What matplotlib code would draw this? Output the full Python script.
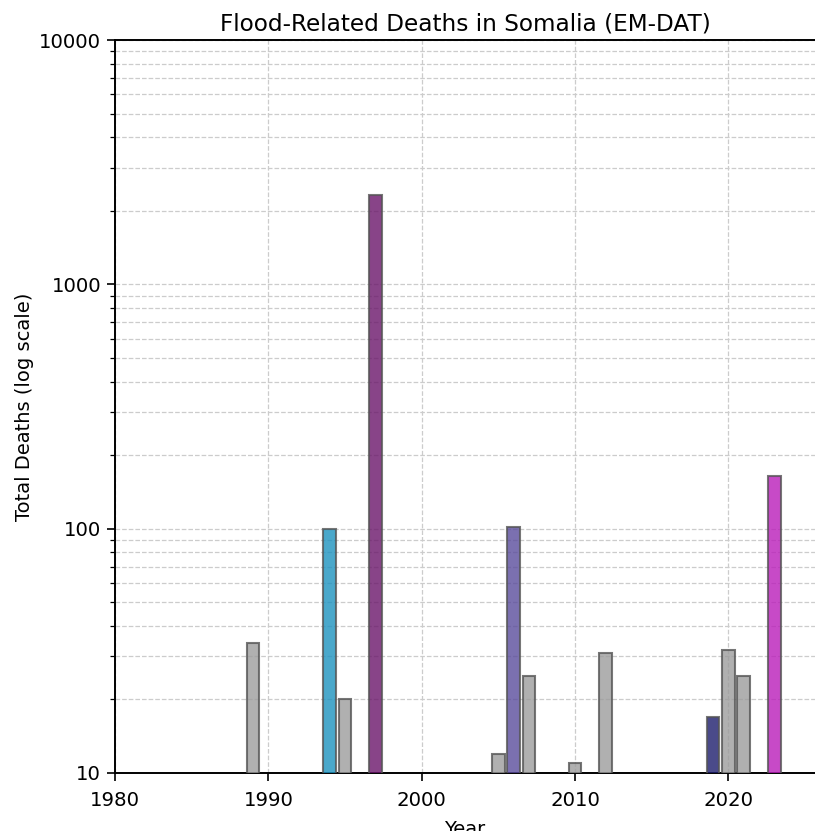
import matplotlib
matplotlib.use("Agg")
import matplotlib.pyplot as plt
from matplotlib.ticker import LogLocator, NullFormatter

years = [1989, 1994, 1995, 1997, 2005, 2006, 2007, 2010, 2012, 2019, 2020, 2021, 2023]
deaths = [34, 100, 20, 2330, 12, 102, 25, 11, 31, 17, 32, 25, 165]
bar_colors = ["#9c9c9c", "#1d92bf", "#9c9c9c", "#6a156a", "#9c9c9c", "#5a4c9c",
              "#9c9c9c", "#9c9c9c", "#9c9c9c", "#1d1d6d", "#9c9c9c", "#9c9c9c", "#ba1dba"]
x_ticks = [1980, 1990, 2000, 2010, 2020]
y_ticks = [10, 100, 1000, 10000]
y_tick_labels = ["10", "100", "1000", "10000"]

fig = plt.figure(figsize=(8.15, 8.31), dpi=100)
ax = fig.add_axes([115/815, 1 - 773/831, 700/815, (773-40)/831])

ax.bar(years, deaths, width=0.82, color=bar_colors, edgecolor="#555555",
       linewidth=1.5, alpha=0.8, zorder=3)

ax.set_yscale("log")
ax.set_ylim(10, 10000)
ax.set_xlim(1980, 2025.65)
ax.set_xticks(x_ticks)
ax.set_yticks(y_ticks)
ax.set_yticklabels(y_tick_labels)
ax.yaxis.set_minor_locator(LogLocator(base=10, subs=range(2, 10)))
ax.yaxis.set_minor_formatter(NullFormatter())
ax.tick_params(axis="both", which="major", labelsize=14.2, length=6, width=1.2, pad=4)
ax.tick_params(axis="x", which="major", pad=7)
ax.tick_params(axis="y", which="minor", length=3.5, width=0.9)

ax.grid(True, which="major", axis="both", linestyle="--", color="#cccccc", linewidth=0.9, zorder=0)
ax.grid(True, which="minor", axis="y", linestyle="--", color="#cccccc", linewidth=0.9, zorder=0)
ax.set_axisbelow(True)

ax.spines["right"].set_visible(False)
for s in ["top", "left", "bottom"]:
    ax.spines[s].set_linewidth(1.4)

ax.set_title("Flood-Related Deaths in Somalia (EM-DAT)", fontsize=16.7, pad=7)
ax.set_xlabel("Year", fontsize=14, labelpad=7)
ax.set_ylabel("Total Deaths (log scale)", fontsize=14, labelpad=4)

fig.savefig("out.png", dpi=100)
